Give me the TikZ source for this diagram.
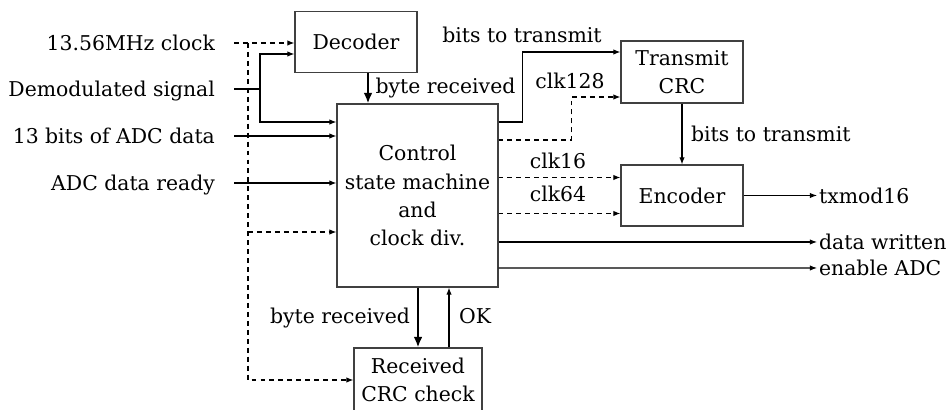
\documentclass[tikz,border=0pt]{standalone}
\usepackage{fontspec}
\setmainfont{DejaVu Serif}
\usetikzlibrary{arrows.meta,positioning,calc}
\tikzset{
  block/.style={draw=black!75,line width=0.6pt,minimum width=2.44cm,minimum height=1.22cm,align=center,inner sep=2pt,font=\fontsize{11.6}{16}\selectfont},
  lbl/.style={inner sep=1pt,font=\fontsize{11.6}{16}\selectfont},
  wire/.style={line width=0.6pt},
  arrow/.style={-{Latex[length=4pt,width=3pt]},line width=0.6pt},
  clkwire/.style={line width=0.6pt,dash pattern=on 2.8pt off 2.3pt},
  clkarrow/.style={arrow,dash pattern=on 2.8pt off 2.3pt},
  bigarrow/.style={-{Latex[length=6pt,width=5pt]},line width=1.3pt}
}
\begin{document}
\begin{tikzpicture}

  \useasboundingbox (0,0) rectangle (18.94,8.2);
  \clip (0,0) rectangle (18.94,8.2);

  % blocks
  \node[block] (dec) at (7.12,7.36) {Decoder};
  \node[block,minimum width=3.22cm,minimum height=3.66cm] (ctrl) at (8.35,4.29) {Control\\state machine\\and\\clock div.};
  \node[block,minimum height=1.24cm] (tcrc) at (13.64,6.76) {Transmit\\CRC};
  \node[block] (enc) at (13.64,4.29) {Encoder};
  \node[block,minimum width=2.56cm,minimum height=1.28cm] (rcrc) at (8.36,0.6) {Received\\CRC check};

  % inputs
  \node[lbl,anchor=base east] (clk)   at (4.34,7.19) {13.56MHz clock};
  \node[lbl,anchor=base east] (demod) at (4.34,6.27) {Demodulated signal};
  \node[lbl,anchor=base east] (adc)   at (4.34,5.33) {13 bits of ADC data};
  \node[lbl,anchor=base east] (rdy)   at (4.34,4.39) {ADC data ready};

  \coordinate (clkin) at (4.68,7.34);
  \coordinate (clkbus) at (4.96,7.34);
  \coordinate (clkctl) at (4.96,3.56);
  \coordinate (demin) at (4.68,6.42);
  \coordinate (split) at (5.2,6.42);
  \coordinate (adcin) at (4.68,5.48);
  \coordinate (rdyin) at (4.68,4.54);

  \draw[clkarrow] (clkin) -- (clkin -| dec.west);
  \draw[clkarrow] (clkbus) |- (rcrc.west);
  \draw[clkarrow] (clkctl) -- (clkctl -| ctrl.west);
  \draw[wire] (demin) -- (split);
  \draw[arrow] (split) |- ([yshift=-0.24cm]dec.west);
  \draw[arrow] (split) |- ([yshift=1.47cm]ctrl.west);
  \draw[arrow] (adcin) -- (adcin -| ctrl.west);
  \draw[arrow] (rdyin) -- (rdyin -| ctrl.west);

  % decoder to control
  \draw[bigarrow] ([xshift=0.24cm]dec.south) -- ([xshift=0.24cm]dec.south |- ctrl.north);
  \node[lbl,anchor=base] (brx) at (8.91,6.32) {byte received};

  % control to transmit side
  \draw[arrow] ([yshift=1.47cm]ctrl.east) -- ++(0.48,0) |- ([yshift=0.4cm]tcrc.west);
  \draw[clkarrow] ([yshift=1.11cm]ctrl.east) -- ++(1.46,0) |- ([yshift=-0.5cm]tcrc.west);
  \draw[clkarrow] ([yshift=0.36cm]ctrl.east) -- ([yshift=0.36cm]enc.west);
  \draw[clkarrow] ([yshift=-0.36cm]ctrl.east) -- ([yshift=-0.36cm]enc.west);
  \node[lbl,anchor=base] (btt) at (10.44,7.34) {bits to transmit};
  \node[lbl,anchor=base] (c128) at (11.4,6.42) {clk128};
  \node[lbl,anchor=base] (c16) at (11.16,4.82) {clk16};
  \node[lbl,anchor=base] (c64) at (11.16,4.16) {clk64};

  \draw[arrow] (tcrc) -- (enc);
  \node[lbl,anchor=base west] (btt2) at (13.78,5.36) {bits to transmit};

  % outputs
  \node[lbl,anchor=west] (txm) at (16.34,4.29) {txmod16};
  \node[lbl,anchor=west] (dw)  at (16.34,3.36) {data written};
  \node[lbl,anchor=west] (ena) at (16.34,2.84) {enable ADC};
  \draw[arrow] (enc) -- (txm);
  \draw[arrow] ([yshift=-0.93cm]ctrl.east) -- (dw);
  \draw[arrow] ([yshift=-1.45cm]ctrl.east) -- (ena);

  % control and received crc
  \draw[bigarrow] (rcrc.north |- ctrl.south) -- (rcrc.north);
  \draw[arrow] ([xshift=0.62cm]rcrc.north) -- ([xshift=0.62cm]rcrc.north |- ctrl.south);
  \node[lbl,anchor=base] (brx2) at (6.8,1.72) {byte received};
  \node[lbl,anchor=base] (ok) at (9.5,1.72) {OK};

\end{tikzpicture}
\end{document}
